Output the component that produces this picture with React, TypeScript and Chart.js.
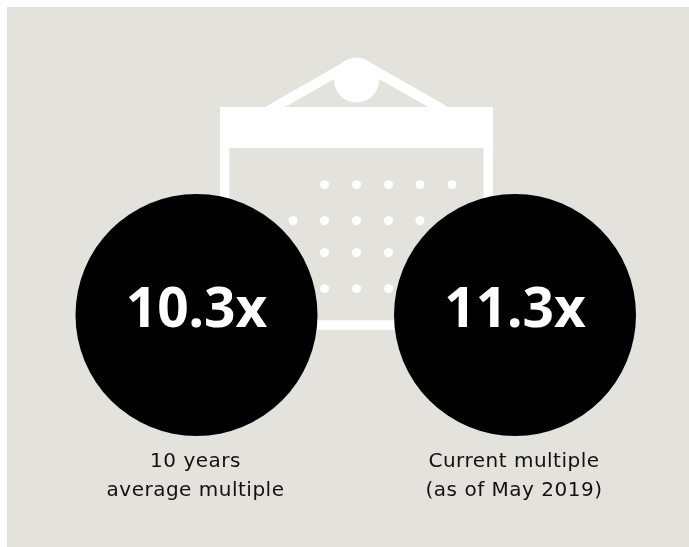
import React, { useEffect, useRef } from "react";
import { Chart, registerables } from "chart.js";

Chart.register(...registerables);

const WIDTH = 689;
const HEIGHT = 547;

const multiples = [10.3, 11.3];
const captions = [
  ["10 years", "average multiple"],
  ["Current multiple", "(as of May 2019)"],
];
const circleX = [196.5, 515];
const circleY = 315;
const circleRadius = 121;

// Calendar icon, in page units
const calendarDotsRow1 = [324.5, 356.5, 388.5, 420, 452];
const calendarDotsRow2 = [293, 324.5, 356.5, 388.5, 420];
const calendarDotsRow3 = [324.5, 356.5, 388.5];
const calendarDotsRow4 = [324.5, 356.5, 388.5];
const calendarRowY = [184.5, 220.5, 252.5, 288.5];
const frameOutline = [
  { x: 224.7, y: 148 },
  { x: 224.7, y: 325 },
  { x: 488.2, y: 325 },
  { x: 488.2, y: 148 },
];
const headerBand = [
  { x: 220, y: 127.5 },
  { x: 493, y: 127.5 },
];
const roofLeft = [
  { x: 266.3, y: 112 },
  { x: 343, y: 68.2 },
];
const roofRight = [
  { x: 447.1, y: 112 },
  { x: 370, y: 68.2 },
];
const knob = [{ x: 356.5, y: 80, r: 22.5 }];

const PANEL = "#e3e2dd";
const WHITE = "#ffffff";

const panelPlugin = {
  id: "panel",
  beforeDraw(chart: any) {
    const { ctx } = chart;
    const x = chart.scales.x;
    const y = chart.scales.y;
    ctx.save();
    ctx.fillStyle = WHITE;
    ctx.fillRect(0, 0, WIDTH, HEIGHT);
    ctx.fillStyle = PANEL;
    const left = x.getPixelForValue(7);
    const top = y.getPixelForValue(7);
    ctx.fillRect(left, top, x.getPixelForValue(WIDTH) - left, y.getPixelForValue(HEIGHT) - top);
    ctx.restore();
  },
};

const labelPlugin = {
  id: "labels",
  afterDatasetsDraw(chart: any) {
    const { ctx } = chart;
    const x = chart.scales.x;
    const y = chart.scales.y;
    ctx.save();
    ctx.textAlign = "center";
    ctx.textBaseline = "alphabetic";
    multiples.forEach((value, i) => {
      ctx.fillStyle = WHITE;
      ctx.font = "700 55px 'Noto Sans'";
      ctx.fillText(`${value}x`, x.getPixelForValue(circleX[i]), y.getPixelForValue(327));
      ctx.fillStyle = "#111111";
      ctx.font = "400 20px 'DejaVu Sans'";
      ctx.letterSpacing = "0.5px";
      captions[i].forEach((line, j) => {
        ctx.fillText(line, x.getPixelForValue(circleX[i] - 1), y.getPixelForValue(467 + j * 29));
      });
      ctx.letterSpacing = "0px";
    });
    ctx.restore();
  },
};

export default function App() {
  const ref = useRef<HTMLCanvasElement>(null);

  useEffect(() => {
    document.body.style.margin = "0";
    const line = (data: any[], width: number, cap = "butt") => ({
      type: "line" as const,
      data,
      borderColor: WHITE,
      borderWidth: width,
      borderCapStyle: cap,
      borderJoinStyle: "miter",
      pointRadius: 0,
      tension: 0,
      order: 3,
    });
    const dots = (xs: number[], row: number) => ({
      type: "scatter" as const,
      data: xs.map((x) => ({ x, y: calendarRowY[row] })),
      backgroundColor: WHITE,
      pointRadius: 4.5,
      pointBorderWidth: 0,
      order: 2,
    });
    const chart = new Chart(ref.current!, {
      type: "bubble",
      data: {
        datasets: [
          {
            type: "bubble",
            data: multiples.map((_, i) => ({ x: circleX[i], y: circleY, r: circleRadius })),
            backgroundColor: "#000000",
            borderWidth: 0,
            order: 1,
          },
          dots(calendarDotsRow1, 0),
          dots(calendarDotsRow2, 1),
          dots(calendarDotsRow3, 2),
          dots(calendarDotsRow4, 3),
          line(frameOutline, 9.3),
          line(headerBand, 41),
          line(roofLeft, 10),
          line(roofRight, 10),
          {
            type: "bubble",
            data: knob,
            backgroundColor: WHITE,
            borderWidth: 0,
            order: 3,
          },
        ] as any,
      },
      options: {
        animation: false,
        responsive: false,
        layout: { padding: 0, autoPadding: false },
        plugins: { legend: { display: false }, tooltip: { enabled: false } },
        scales: {
          x: { type: "linear", min: 0, max: WIDTH, display: false },
          y: { type: "linear", min: 0, max: HEIGHT, reverse: true, display: false },
        },
      },
      plugins: [panelPlugin, labelPlugin],
    });
    return () => chart.destroy();
  }, []);

  return <canvas ref={ref} width={WIDTH} height={HEIGHT} style={{ display: "block" }} />;
}
